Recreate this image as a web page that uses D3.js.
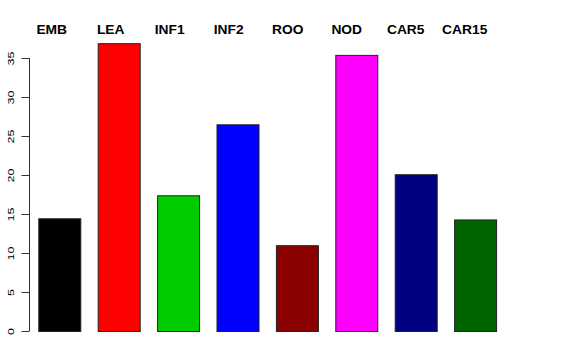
<!DOCTYPE html>
<html>
<head>
<meta charset="utf-8">
<script src="https://cdn.jsdelivr.net/npm/d3@7"></script>
<style>
  body { margin: 0; background: #fff; }
  text { font-family: "Liberation Sans", Arial, sans-serif; }
</style>
</head>
<body>
<div id="content"></div>
<script>
const svgWidth = 576, svgHeight = 360;

const categories = ["EMB", "LEA", "INF1", "INF2", "ROO", "NOD", "CAR5", "CAR15"];
const values = [14.45, 36.9, 17.4, 26.5, 11.0, 35.4, 20.1, 14.3];
const colors = ["#000000", "#ff0000", "#00cd00", "#0000ff", "#8b0000", "#ff00ff", "#000080", "#006400"];
const yTicks = [0, 5, 10, 15, 20, 25, 30, 35];

const svg = d3.select("#content").append("svg")
  .attr("width", svgWidth)
  .attr("height", svgHeight);

// bars sit on a band scale, 8 slots of 59.4px starting at 38.3
const x = d3.scaleBand()
  .domain(categories)
  .range([38.3 - 8.7, 38.3 - 8.7 + 59.4 * 8])
  .paddingInner(17.4 / 59.4)
  .paddingOuter(17.4 / 59.4 / 2);

const y = d3.scaleLinear()
  .domain([0, 35])
  .range([331, 58]);

svg.selectAll("rect.bar")
  .data(values).enter().append("rect")
  .attr("class", "bar")
  .attr("x", (d, i) => x(categories[i]) + 0.5)
  .attr("y", d => y(d) + 0.5)
  .attr("width", x.bandwidth())
  .attr("height", d => y(0) - y(d))
  .attr("fill", (d, i) => colors[i])
  .attr("stroke", "#222")
  .attr("stroke-width", 1);

// labels along the top, centred, a bit narrower spacing than the bars
const lx = d3.scalePoint()
  .domain(categories)
  .range([51.7, 51.7 + 59 * 7]);

svg.selectAll("text.lab")
  .data(categories).enter().append("text")
  .attr("class", "lab")
  .attr("transform", d => `translate(${lx(d)},34) scale(1.15,1)`)
  .attr("text-anchor", "middle")
  .attr("font-size", 12)
  .attr("font-weight", "bold")
  .text(d => d);

const axis = svg.append("g")
  .attr("transform", "translate(29.5,0)")
  .call(d3.axisLeft(y).tickValues(yTicks).tickSize(8).tickPadding(0));

axis.select(".domain").attr("stroke", "#333").attr("d", `M0,${y(0)}V${y(35)}`);
axis.selectAll(".tick line").attr("stroke", "#333");
axis.selectAll(".tick text")
  .attr("font-family", "Liberation Sans, Arial, sans-serif")
  .attr("font-size", 12.5)
  .attr("fill", "#000")
  .attr("x", null)
  .attr("dy", null)
  .attr("transform", "translate(-16,0) rotate(-90) scale(1,0.7)")
  .attr("text-anchor", "middle");
</script>
</body>
</html>
